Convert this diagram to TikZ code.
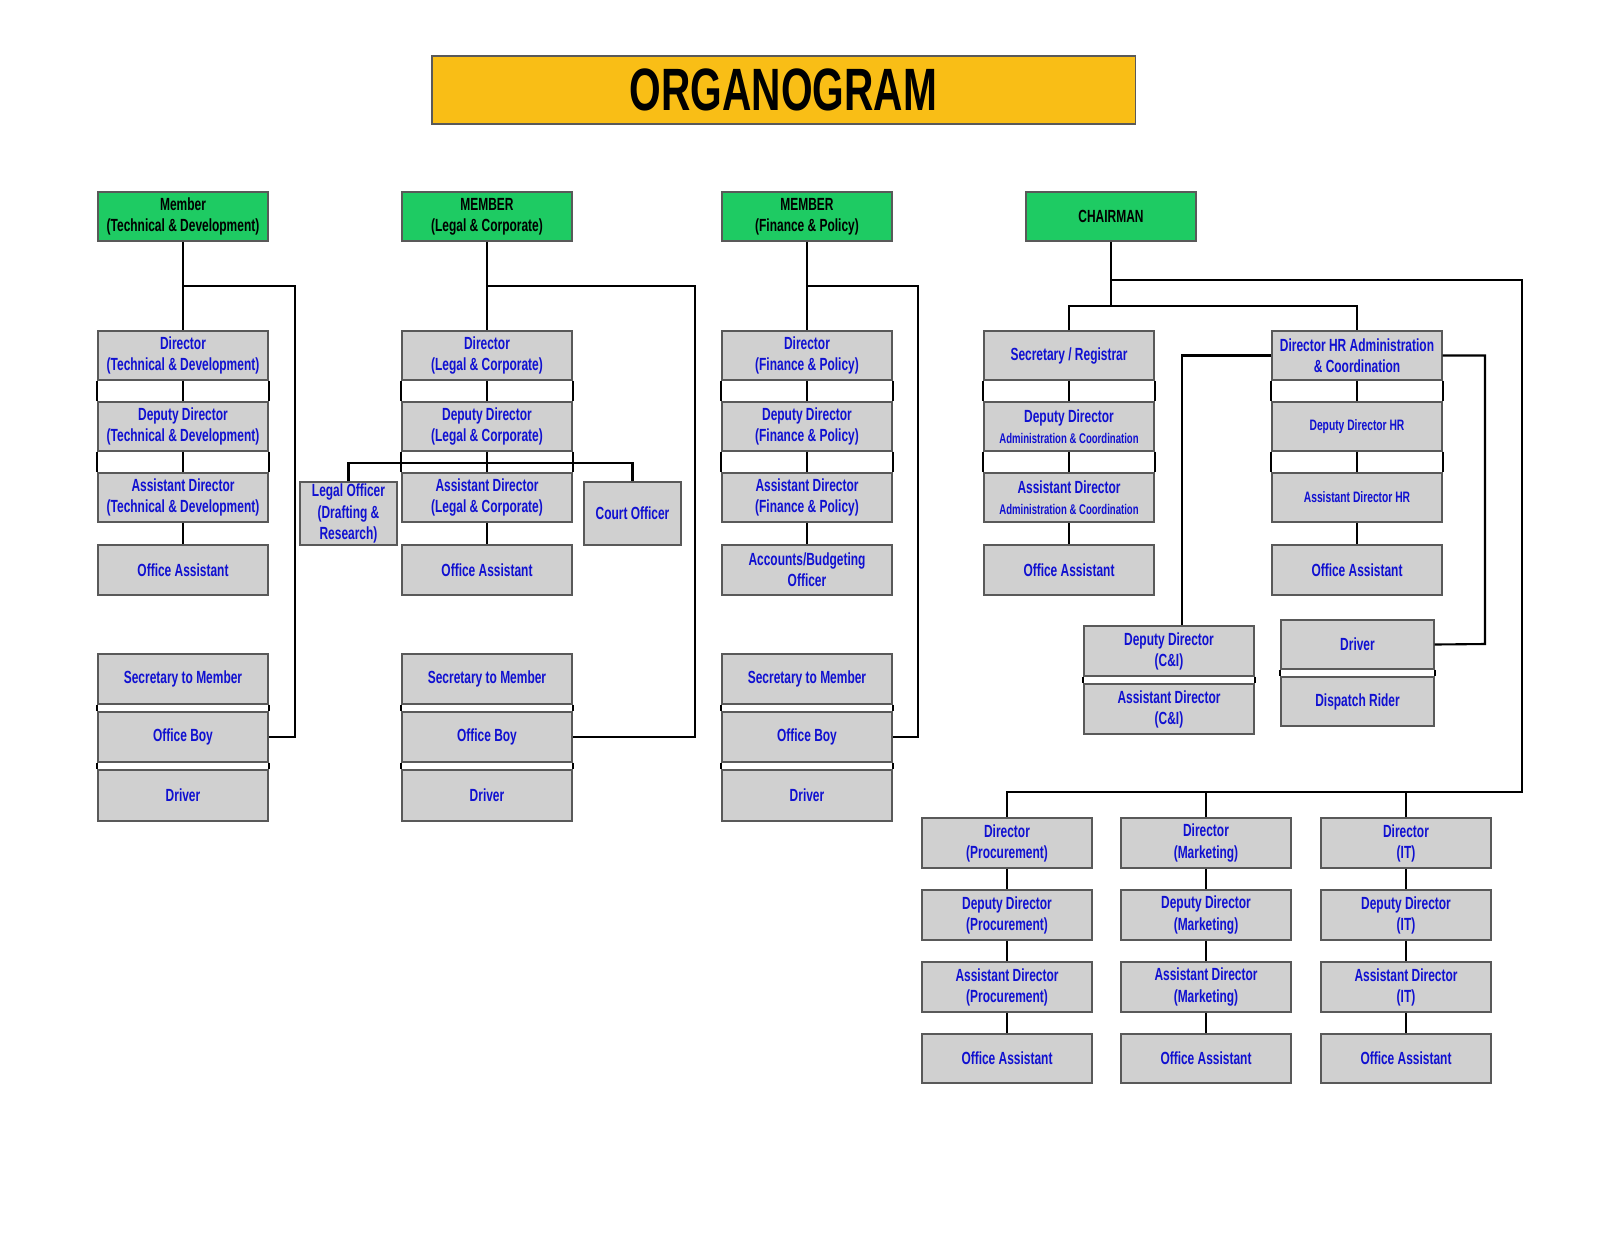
\documentclass[tikz,border=0pt]{standalone}
\usepackage{fontspec}
\setmainfont{Liberation Sans}[FakeStretch=0.68]
\usetikzlibrary{calc}
\definecolor{orgyellow}{HTML}{F9BE16}
\definecolor{orggreen}{HTML}{1ECB63}
\definecolor{orgblue}{HTML}{1010D0}
\definecolor{orggray}{HTML}{D0D0D0}
\tikzset{
  box/.style={draw=gray!70!black, fill=orggray, line width=0.4pt, inner sep=0pt,
    align=center, text=orgblue, font=\bfseries\fontsize{5}{6}\selectfont},
  head/.style={box, fill=orggreen, text=black},
  link/.style={line width=0.6pt, black}
}
\newcommand{\bx}[7][box]{%
  \node[#1, minimum width={(#5-#3)*0.01cm}, minimum height={(#6-#4)*0.01cm}]
    (#2) at ({(#3+#5)/2},{(#4+#6)/2}) {#7};}
% gap band between two stacked boxes
\newcommand{\gap}[2]{%
  \draw[link] (#1.south west) -- (#2.north west);
  \draw[link] (#1.south east) -- (#2.north east);
  \draw[link] (#1.south) -- (#2.north);}
\newcommand{\side}[2]{%
  \draw[link] (#1.south west) -- (#2.north west);
  \draw[link] (#1.south east) -- (#2.north east);}
\begin{document}
\begin{tikzpicture}[x=0.01cm,y=-0.01cm]
  \useasboundingbox (0,0) rectangle (1600,1236);

  % title
  \node[draw=gray!70!black, fill=orgyellow, minimum width=7.03cm, minimum height=0.68cm,
    font=\bfseries\fontsize{17}{20}\selectfont] (title) at (783.5,90) {ORGANOGRAM};

  % heads
  \bx[head]{m1}{98}{192}{268}{241}{Member\\(Technical \& Development)}
  \bx[head]{m2}{402}{192}{572}{241}{MEMBER\\(Legal \& Corporate)}
  \bx[head]{m3}{722}{192}{892}{241}{MEMBER\\(Finance \& Policy)}
  \bx[head]{ch}{1026}{192}{1196}{241}{CHAIRMAN}

  % column 1
  \bx{d1}{98}{331}{268}{380}{Director\\(Technical \& Development)}
  \bx{dd1}{98}{402}{268}{451}{Deputy Director\\(Technical \& Development)}
  \bx{ad1}{98}{473}{268}{522}{Assistant Director\\(Technical \& Development)}
  \bx{oa1}{98}{545}{268}{595}{Office Assistant}
  \bx{sm1}{98}{654}{268}{704}{Secretary to Member}
  \bx{ob1}{98}{712}{268}{762}{Office Boy}
  \bx{dr1}{98}{770}{268}{821}{Driver}
  \draw[link] (m1.south) -- (d1.north);
  \gap{d1}{dd1} \gap{dd1}{ad1}
  \draw[link] (ad1.south) -- (oa1.north);
  \side{sm1}{ob1} \side{ob1}{dr1}
  \draw[link] (m1.south |- 0,286) -| (295,737) -- (ob1.east);

  % column 2
  \bx{d2}{402}{331}{572}{380}{Director\\(Legal \& Corporate)}
  \bx{dd2}{402}{402}{572}{451}{Deputy Director\\(Legal \& Corporate)}
  \bx{ad2}{402}{473}{572}{522}{Assistant Director\\(Legal \& Corporate)}
  \bx{oa2}{402}{545}{572}{595}{Office Assistant}
  \bx{lo2}{300}{482}{397}{545}{Legal Officer\\(Drafting \&\\Research)}
  \bx{co2}{584}{482}{681}{545}{Court Officer}
  \bx{sm2}{402}{654}{572}{704}{Secretary to Member}
  \bx{ob2}{402}{712}{572}{762}{Office Boy}
  \bx{dr2}{402}{770}{572}{821}{Driver}
  \draw[link] (m2.south) -- (d2.north);
  \gap{d2}{dd2} \gap{dd2}{ad2}
  \draw[link] (ad2.south) -- (oa2.north);
  \draw[link] (lo2.north) |- (co2.north |- 0,463) -- (co2.north);
  \side{sm2}{ob2} \side{ob2}{dr2}
  \draw[link] (m2.south |- 0,286) -| (695,737) -- (ob2.east);

  % column 3
  \bx{d3}{722}{331}{892}{380}{Director\\(Finance \& Policy)}
  \bx{dd3}{722}{402}{892}{451}{Deputy Director\\(Finance \& Policy)}
  \bx{ad3}{722}{473}{892}{522}{Assistant Director\\(Finance \& Policy)}
  \bx{ab3}{722}{545}{892}{595}{Accounts/Budgeting\\Officer}
  \bx{sm3}{722}{654}{892}{704}{Secretary to Member}
  \bx{ob3}{722}{712}{892}{762}{Office Boy}
  \bx{dr3}{722}{770}{892}{821}{Driver}
  \draw[link] (m3.south) -- (d3.north);
  \gap{d3}{dd3} \gap{dd3}{ad3}
  \draw[link] (ad3.south) -- (ab3.north);
  \side{sm3}{ob3} \side{ob3}{dr3}
  \draw[link] (m3.south |- 0,286) -| (918,737) -- (ob3.east);

  % chairman: registrar and HR
  \bx{sr}{984}{331}{1154}{380}{Secretary / Registrar}
  \bx{dsr}{984}{402}{1154}{451}{Deputy Director\\{\fontsize{4}{5}\selectfont Administration \& Coordination}}
  \bx{asr}{984}{473}{1154}{522}{Assistant Director\\{\fontsize{4}{5}\selectfont Administration \& Coordination}}
  \bx{oasr}{984}{545}{1154}{595}{Office Assistant}
  \bx{hr}{1272}{331}{1442}{380}{Director HR Administration\\\& Coordination}
  \bx{dhr}{1272}{402}{1442}{451}{\fontsize{4.3}{5.5}\selectfont Deputy Director HR}
  \bx{ahr}{1272}{473}{1442}{522}{\fontsize{4.3}{5.5}\selectfont Assistant Director HR}
  \bx{oahr}{1272}{545}{1442}{595}{Office Assistant}
  \bx{dci}{1084}{626}{1254}{676}{Deputy Director\\(C\&I)}
  \bx{aci}{1084}{684}{1254}{734}{Assistant Director\\(C\&I)}
  \bx{drv}{1281}{620}{1434}{669}{Driver}
  \bx{dsp}{1281}{677}{1434}{726}{Dispatch Rider}
  \draw[link] (ch.south) -- (ch.south |- 0,306);
  \draw[link] (sr.north) |- (hr.north |- 0,306) -- (hr.north);
  \gap{sr}{dsr} \gap{dsr}{asr}
  \draw[link] (asr.south) -- (oasr.north);
  \gap{hr}{dhr} \gap{dhr}{ahr}
  \draw[link] (ahr.south) -- (oahr.north);
  \draw[link] (hr.west) -| (dci.north -| 1182,0);
  \draw[link] (hr.east) -| (1485,644) -- (drv.east);
  \side{dci}{aci} \side{drv}{dsp}

  % chairman: lower directorates
  \foreach \nm/\cx/\lab in {pr/922/Procurement, mk/1121/Marketing, it/1321/IT}{
    \bx{d\nm}{\cx}{818}{\cx+170}{868}{Director\\(\lab)}
    \bx{dd\nm}{\cx}{890}{\cx+170}{940}{Deputy Director\\(\lab)}
    \bx{ad\nm}{\cx}{962}{\cx+170}{1012}{Assistant Director\\(\lab)}
    \bx{oa\nm}{\cx}{1034}{\cx+170}{1083}{Office Assistant}
    \draw[link] (d\nm.south) -- (dd\nm.north);
    \draw[link] (dd\nm.south) -- (ad\nm.north);
    \draw[link] (ad\nm.south) -- (oa\nm.north);
  }
  \draw[link] (ch.south |- 0,280) -| (1522,792) -- (dpr.north |- 0,792) -- (dpr.north);
  \draw[link] (dmk.north) -- (dmk.north |- 0,792);
  \draw[link] (dit.north) -- (dit.north |- 0,792);
\end{tikzpicture}
\end{document}
